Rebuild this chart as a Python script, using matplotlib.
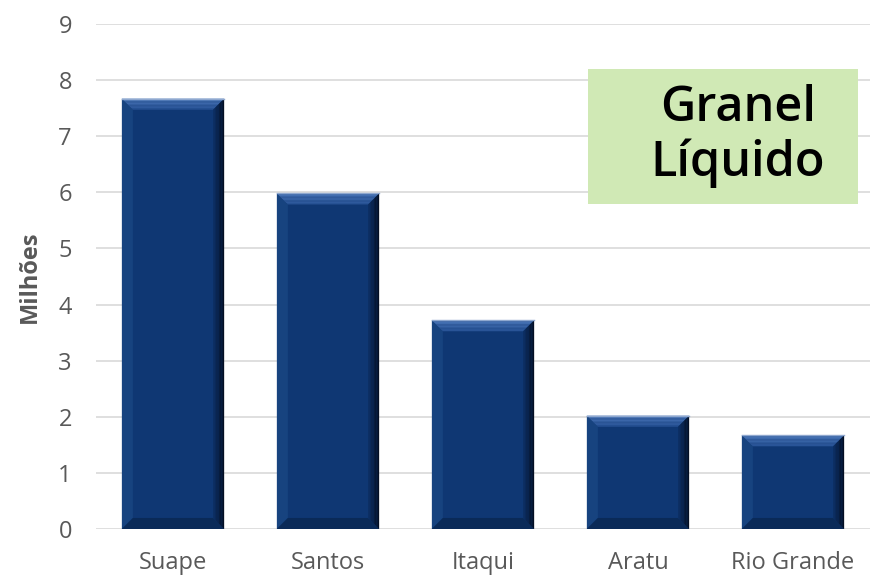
import numpy as np
import matplotlib.pyplot as plt
from matplotlib.patches import Polygon

portos = ['Suape', 'Santos', 'Itaqui', 'Aratu', 'Rio Grande']
valores = [7.67, 5.98, 3.72, 2.02, 1.67]
yticks = list(range(0, 10))

plt.rcParams['font.family'] = ['Open Sans', 'DejaVu Sans']

fig = plt.figure(figsize=(8.86, 5.78), dpi=100)
ax = fig.add_axes([0.1078, 0.0848, 0.8747, 0.8737])

x = np.arange(len(portos))
largura = 0.66
cor = '#0F3773'
bars = ax.bar(x, valores, width=largura, color=cor, zorder=3)

ax.set_xlim(-0.5, len(portos) - 0.5)
ax.set_ylim(0, 9)
ax.set_yticks(yticks)
ax.set_xticks(x)
ax.set_xticklabels(portos)
ax.tick_params(axis='both', length=0, labelsize=17, colors='#595959')
ax.tick_params(axis='y', pad=17)
ax.tick_params(axis='x', pad=16)
ax.grid(axis='y', color='#D9D9D9', linewidth=1.2, zorder=0)
for s in ax.spines.values():
    s.set_visible(False)
ax.set_ylabel('Milhões', fontsize=17, color='#595959', fontweight='bold', labelpad=12)

# bevel on each bar, about 11 px thick
fig.canvas.draw()
bb = ax.get_window_extent()
dx = 11 * len(portos) / bb.width
dy = 11 * 9 / bb.height


def faixa(pts, c, a=1.0):
    ax.add_patch(Polygon(pts, closed=True, facecolor=c, edgecolor='none', alpha=a, zorder=4))


def mistura(c0, c1, t):
    return (np.array(c0) * (1 - t) + np.array(c1) * t) / 255


n = 8
for b in bars:
    x0 = b.get_x()
    x1 = x0 + b.get_width()
    h = b.get_height()
    # left
    faixa([(x0, 0), (x0 + dx, dy), (x0 + dx, h - dy), (x0, h)], '#17437F')
    # bottom
    faixa([(x0, 0), (x1, 0), (x1 - dx, dy), (x0 + dx, dy)], '#0A2A58')
    # top, light band fading into the face
    for i in range(n):
        t0, t1 = i / n, (i + 1) / n
        col = mistura([0x4A, 0x76, 0xB8], [0x27, 0x52, 0x95], (t0 + t1) / 2)
        faixa([(x0 + dx * t0, h - dy * t0), (x1 - dx * t0, h - dy * t0),
               (x1 - dx * t1, h - dy * t1), (x0 + dx * t1, h - dy * t1)], col)
    # right, darkest toward the outer edge
    for i in range(n):
        t0, t1 = i / n, (i + 1) / n
        col = mistura([0x0D, 0x30, 0x66], [0x02, 0x0C, 0x1E], (t0 + t1) / 2)
        faixa([(x1 - dx * (1 - t0), dy * (1 - t0)), (x1 - dx * (1 - t1), dy * (1 - t1)),
               (x1 - dx * (1 - t1), h - dy * (1 - t1)), (x1 - dx * (1 - t0), h - dy * (1 - t0))],
              col)
    ax.plot([x0, x1], [h, h], color='#8FA8CF', linewidth=1, zorder=5)

ax.add_patch(plt.Rectangle((0.635, 0.6436), 0.349, 0.2674, transform=ax.transAxes,
                           facecolor='#D0E9B5', edgecolor='none', zorder=5))
ax.text(0.829, 0.778, 'Granel\nLíquido', transform=ax.transAxes, ha='center', va='center',
        fontsize=35, color='black', fontweight='semibold', linespacing=1.13, zorder=6)

fig.savefig('out.png', dpi=100)
